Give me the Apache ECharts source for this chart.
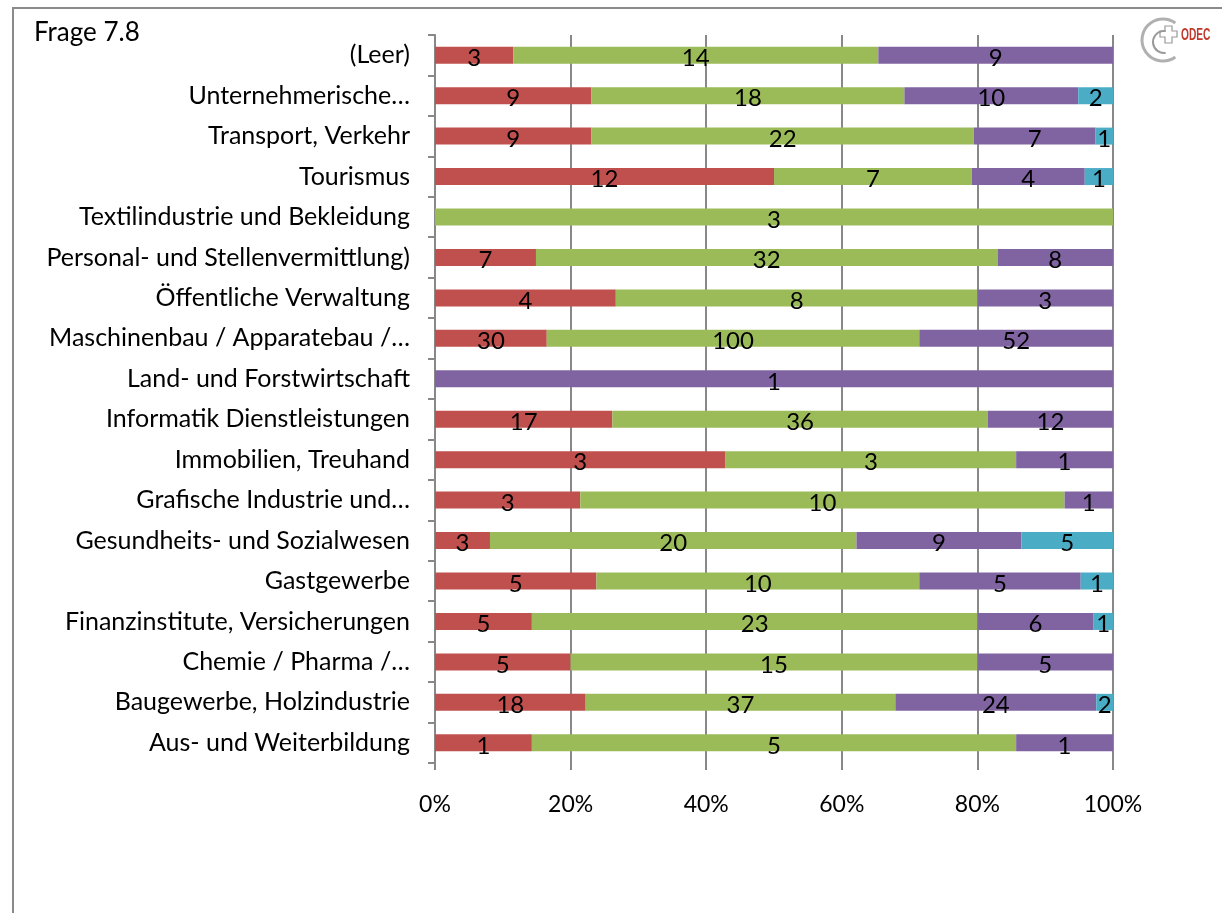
<!DOCTYPE html>
<html>
<head>
<meta charset="utf-8">
<script src="https://cdn.jsdelivr.net/npm/echarts@6/dist/echarts.min.js"></script>
<style>
html,body{margin:0;padding:0;background:#fff;}
#c{width:1222px;height:913px;}
</style>
</head>
<body>
<div id="c"></div>
<script>
const categories = ['Aus- und Weiterbildung','Baugewerbe, Holzindustrie','Chemie / Pharma /…','Finanzinstitute, Versicherungen','Gastgewerbe','Gesundheits- und Sozialwesen','Grafische Industrie und…','Immobilien, Treuhand','Informatik Dienstleistungen','Land- und Forstwirtschaft','Maschinenbau / Apparatebau /…','Öffentliche Verwaltung','Personal- und Stellenvermittlung)','Textilindustrie und Bekleidung','Tourismus','Transport, Verkehr','Unternehmerische…','(Leer)'];
const redCounts    = [1,18,5,5,5,3,3,3,17,0,30,4,7,0,12,9,9,3];
const greenCounts  = [5,37,15,23,10,20,10,3,36,0,100,8,32,3,7,22,18,14];
const purpleCounts = [1,24,5,6,5,9,1,1,12,1,52,3,8,0,4,7,10,9];
const tealCounts   = [0,2,0,1,1,5,0,0,0,0,0,0,0,0,1,1,2,0];
const xTicks = [0,20,40,60,80,100];

const seriesCounts = [redCounts, greenCounts, purpleCounts, tealCounts];
const seriesColors = ['#C0504D','#9BBB59','#8064A2','#4BACC6'];
const totals = categories.map((_, i) => seriesCounts.reduce((s, a) => s + a[i], 0));
const FONT = 'Lato';

const chart = echarts.init(document.getElementById('c'), null, {renderer:'canvas'});
const series = seriesCounts.map((arr, si) => ({
  type: 'bar',
  stack: 'all',
  barWidth: 17,
  z: 3,
  itemStyle: {color: seriesColors[si]},
  label: {
    show: true,
    position: 'inside',
    color: '#000',
    fontFamily: FONT,
    fontSize: 24,
    offset: [0, 3],
    formatter: p => arr[p.dataIndex] > 0 ? String(arr[p.dataIndex]) : ''
  },
  data: arr.map((v, i) => v > 0 ? v / totals[i] * 100 : null)
}));

chart.setOption({
  animation: false,
  backgroundColor: '#fff',
  grid: {left: 435, right: 109, top: 35, bottom: 150, containLabel: false},
  xAxis: {
    type: 'value', min: 0, max: 100, interval: 20,
    axisLine: {show: false},
    axisTick: {show: true, length: 7, lineStyle: {color: '#888', width: 2}},
    splitLine: {show: true, lineStyle: {color: '#888', width: 2}},
    axisLabel: {formatter: v => xTicks.includes(v) ? v + '%' : '', color: '#000', fontFamily: FONT, fontSize: 23, margin: 30}
  },
  yAxis: {
    type: 'category', data: categories,
    axisLine: {show: true, lineStyle: {color: '#888', width: 2}},
    axisTick: {show: true, length: 7, lineStyle: {color: '#888', width: 2}},
    axisLabel: {color: '#000', fontFamily: FONT, fontSize: 25, margin: 25}
  },
  series: series,
  graphic: [
    {type: 'rect', shape: {x: 13, y: 8, width: 1400, height: 1200}, style: {fill: 'none', stroke: '#8a8a8a', lineWidth: 2}, z: 0},
    {type: 'text', left: 34, top: 20, style: {text: 'Frage 7.8', fill: '#000', font: '26px ' + FONT}},
    {type: 'arc', shape: {cx: 1163, cy: 40, r: 21, startAngle: Math.PI * 0.3, endAngle: Math.PI * 1.7, clockwise: true}, style: {fill: 'none', stroke: '#b0b0b0', lineWidth: 3}},
    {type: 'arc', shape: {cx: 1164, cy: 42, r: 11, startAngle: Math.PI * 0.45, endAngle: Math.PI * 1.55, clockwise: true}, style: {fill: 'none', stroke: '#999', lineWidth: 2}},
    {type: 'polygon', shape: {points: [[1165,26],[1172,26],[1172,31],[1177,31],[1177,37],[1172,37],[1172,43],[1165,43],[1165,37],[1160,37],[1160,31],[1165,31]]}, style: {fill: 'none', stroke: '#999', lineWidth: 1.2}},
    {type: 'text', x: 1181, y: 27, scaleX: 0.6, style: {text: 'ODEC', fill: '#c0392b', font: 'bold 17px "Liberation Sans", sans-serif'}}
  ]
});
</script>
</body>
</html>
